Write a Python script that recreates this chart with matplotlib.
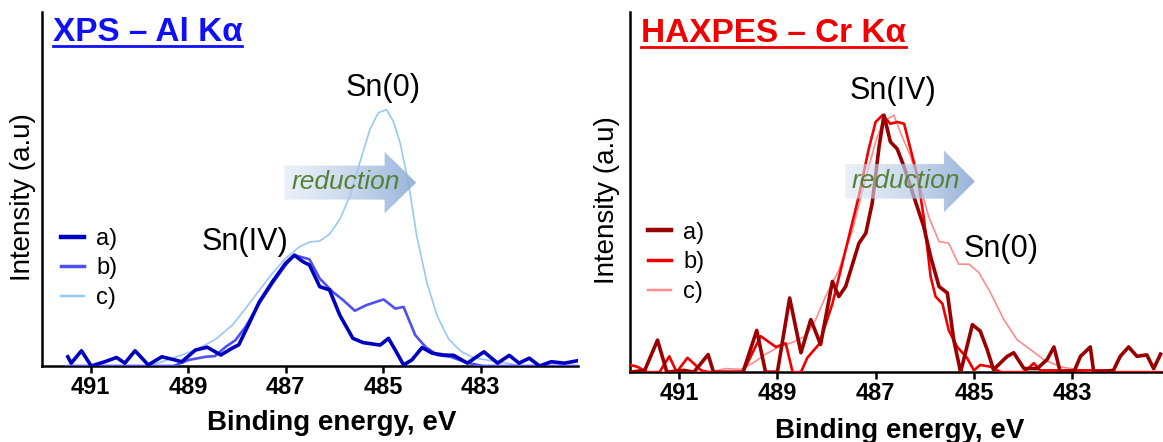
import numpy as np
import matplotlib
matplotlib.use("Agg")
from matplotlib import pyplot as plt
from matplotlib.patches import Polygon
from matplotlib.lines import Line2D

plt.rcParams["font.family"] = ["Liberation Sans", "DejaVu Sans"]

# ---- XPS (Al Ka) spectra, binding energy in eV / normalised intensity ----
xps_a_e = [491.47, 491.40, 491.19, 490.99, 490.71, 490.47, 490.30, 490.09, 489.82, 489.54,
           489.33, 489.13, 488.85, 488.61, 488.33, 488.10, 487.96, 487.75, 487.54, 487.27,
           487.00, 486.82, 486.65, 486.51, 486.30, 486.10, 485.89, 485.62, 485.41, 485.06,
           484.89, 484.75, 484.58, 484.41, 484.20, 483.99, 483.76, 483.55, 483.27, 482.93,
           482.65, 482.41, 482.21, 482.00, 481.79, 481.55, 481.28, 481.00]
xps_a_i = [0.026, 0.008, 0.043, 0.000, 0.012, 0.024, 0.008, 0.043, 0.003, 0.026,
           0.019, 0.012, 0.045, 0.053, 0.031, 0.050, 0.060, 0.120, 0.181, 0.238,
           0.290, 0.313, 0.295, 0.285, 0.224, 0.215, 0.144, 0.078, 0.066, 0.059,
           0.078, 0.045, 0.003, 0.017, 0.052, 0.036, 0.031, 0.030, 0.008, 0.040,
           0.008, 0.030, 0.008, 0.022, 0.000, 0.012, 0.008, 0.015]

xps_b_e = [491.47, 489.30, 488.99, 488.64, 488.45, 488.23, 488.03, 487.82, 487.54, 487.27,
           487.00, 486.82, 486.58, 486.51, 486.30, 486.03, 485.82, 485.58, 485.34, 484.99,
           484.75, 484.58, 484.34, 484.13, 483.89, 483.62, 483.27, 482.95, 481.00]
xps_b_i = [0.000, 0.000, 0.017, 0.026, 0.028, 0.054, 0.073, 0.111, 0.177, 0.233,
           0.285, 0.313, 0.304, 0.301, 0.247, 0.209, 0.186, 0.156, 0.172, 0.188,
           0.162, 0.167, 0.087, 0.054, 0.031, 0.026, 0.009, 0.000, 0.000]

xps_c_e = [491.50, 489.82, 489.47, 489.13, 488.78, 488.44, 488.09, 487.82, 487.54, 487.27,
           487.00, 486.72, 486.51, 486.30, 486.10, 485.89, 485.68, 485.48, 485.27, 485.10,
           484.93, 484.79, 484.65, 484.48, 484.31, 484.10, 483.89, 483.65, 483.41, 483.14,
           482.79, 482.45, 482.20, 481.00]
xps_c_i = [0.000, 0.000, 0.015, 0.031, 0.050, 0.075, 0.116, 0.163, 0.214, 0.262,
           0.304, 0.336, 0.350, 0.353, 0.372, 0.414, 0.480, 0.574, 0.668, 0.715,
           0.724, 0.691, 0.630, 0.517, 0.367, 0.235, 0.141, 0.075, 0.042, 0.023,
           0.015, 0.008, 0.000, 0.000]

# ---- HAXPES (Cr Ka) spectra ----
hax_a_e = [492.00, 491.70, 491.44, 491.25, 490.90, 490.70, 490.41, 490.30, 489.70, 489.42,
           489.24, 489.00, 488.75, 488.52, 488.32, 488.12, 487.88, 487.75, 487.61, 487.34,
           487.20, 487.07, 486.93, 486.83, 486.70, 486.56, 486.42, 486.22, 486.02, 485.88,
           485.71, 485.54, 485.41, 485.27, 485.03, 484.87, 484.73, 484.60, 484.32, 484.19,
           483.98, 483.71, 483.51, 483.37, 483.24, 482.95, 482.83, 482.63, 482.56, 482.16,
           482.02, 481.85, 481.68, 481.48, 481.34, 481.20]
hax_a_i = [0.000, 0.005, 0.089, 0.000, 0.005, 0.000, 0.049, 0.000, 0.000, 0.116,
           0.000, 0.000, 0.206, 0.054, 0.146, 0.077, 0.252, 0.210, 0.238, 0.358,
           0.386, 0.469, 0.626, 0.714, 0.640, 0.620, 0.570, 0.487, 0.404, 0.321,
           0.238, 0.220, 0.090, 0.000, 0.132, 0.114, 0.063, 0.007, 0.044, 0.054,
           0.010, 0.010, 0.035, 0.070, 0.000, 0.005, 0.044, 0.070, 0.000, 0.005,
           0.044, 0.070, 0.044, 0.048, 0.010, 0.050]

hax_b_e = [492.00, 491.85, 491.65, 491.40, 491.20, 491.05, 490.83, 490.55, 490.40, 489.70,
           489.34, 489.03, 488.83, 488.69, 488.52, 488.39, 488.15, 487.88, 487.61, 487.34,
           487.14, 487.00, 486.86, 486.70, 486.56, 486.42, 486.29, 486.15, 486.02, 485.88,
           485.78, 485.64, 485.51, 485.34, 485.14, 485.00, 484.87, 484.66, 484.45, 483.98,
           483.78, 483.65, 482.30, 482.10, 481.20]
hax_b_i = [0.020, 0.015, 0.000, 0.000, 0.044, 0.000, 0.040, 0.005, 0.000, 0.000,
           0.100, 0.070, 0.080, 0.000, 0.000, 0.040, 0.078, 0.190, 0.340, 0.490,
           0.620, 0.695, 0.714, 0.690, 0.695, 0.690, 0.620, 0.545, 0.430, 0.265,
           0.210, 0.190, 0.116, 0.070, 0.040, 0.005, 0.020, 0.015, 0.000, 0.000,
           0.025, 0.005, 0.005, 0.000, 0.000]

hax_c_e = [492.00, 490.30, 490.05, 489.75, 489.50, 489.24, 488.97, 488.69, 488.42, 488.22,
           488.02, 487.75, 487.47, 487.20, 487.00, 486.85, 486.63, 486.49, 486.29, 486.09,
           485.92, 485.71, 485.51, 485.31, 485.10, 484.90, 484.66, 484.39, 484.12, 483.85,
           483.58, 483.24, 482.80, 482.40, 481.20]
hax_c_i = [0.000, 0.002, 0.010, 0.008, 0.025, 0.050, 0.070, 0.083, 0.100, 0.146,
           0.210, 0.283, 0.394, 0.540, 0.640, 0.695, 0.714, 0.664, 0.600, 0.515,
           0.432, 0.363, 0.358, 0.300, 0.300, 0.277, 0.220, 0.146, 0.090, 0.063,
           0.035, 0.015, 0.005, 0.000, 0.000]

ticks = [491, 489, 487, 485, 483]
labels = ["a)", "b)", "c)"]
blues = ["#0000C0", "#5050F0", "#99C8F5"]
reds = ["#9B0000", "#F00000", "#FF8C8C"]
widths = [2.6, 1.9, 1.2]


def reduction_arrow(ax, x0, x1, xh, yc, hb, hh):
    verts = [(x0, yc - hb), (xh, yc - hb), (xh, yc - hh), (x1, yc),
             (xh, yc + hh), (xh, yc + hb), (x0, yc + hb)]
    poly = Polygon(verts, closed=True, facecolor="none", edgecolor="none")
    ax.add_patch(poly)
    t = np.linspace(0, 1, 256)
    c0 = np.array([0.86, 0.90, 0.96])
    c1 = np.array([0.55, 0.67, 0.84])
    rgba = np.zeros((1, 256, 4))
    rgba[0, :, :3] = c0 + (c1 - c0) * t[:, None]
    rgba[0, :, 3] = 0.55 + 0.35 * t
    im = ax.imshow(rgba, extent=(x0, x1, yc - hh, yc + hh), aspect="auto",
                   zorder=5, interpolation="bilinear")
    im.set_clip_path(poly)


def setup(ax, xlim, title, tcolor, fig):
    ax.set_xlim(*xlim)
    ax.set_ylim(0, 1)
    ax.spines["top"].set_visible(False)
    ax.spines["right"].set_visible(False)
    ax.spines["left"].set_linewidth(1.8)
    ax.spines["bottom"].set_linewidth(1.8)
    ax.set_yticks([])
    ax.set_xticks(ticks)
    ax.tick_params(axis="x", direction="out", length=5, width=1.8, labelsize=17, pad=2)
    for lab in ax.get_xticklabels():
        lab.set_fontweight("bold")
    ax.set_xlabel("Binding energy, eV", fontsize=20, fontweight="bold")
    ax.set_ylabel("Intensity (a.u)", fontsize=20)
    t = ax.text(0.02, 0.918, title, transform=ax.transAxes, fontsize=24, fontweight="bold",
                color=tcolor, va="baseline", ha="left")
    fig.canvas.draw()
    bb = t.get_window_extent().transformed(ax.transAxes.inverted())
    ax.add_line(Line2D([bb.x0, bb.x1], [0.903, 0.903], transform=ax.transAxes,
                       color=tcolor, lw=2, clip_on=False))


fig = plt.figure(figsize=(11.63, 4.42), dpi=100)
ax1 = fig.add_axes([0.0361, 0.172, 0.4609, 0.801])
ax2 = fig.add_axes([0.5417, 0.158, 0.4583, 0.8145])

# left panel: XPS
for e, i, col, lw in zip([xps_c_e, xps_b_e, xps_a_e], [xps_c_i, xps_b_i, xps_a_i],
                         blues[::-1], widths[::-1]):
    ax1.plot(e, i, color=col, lw=lw, zorder=3)
reduction_arrow(ax1, 487.03, 484.32, 484.97, 0.518, 0.048, 0.087)
ax1.text(485.77, 0.52, "reduction", style="italic", fontsize=19, color="#548235",
         ha="center", va="center", zorder=6)
ax1.text(485.0, 0.784, "Sn(0)", fontsize=22, ha="center", va="center")
ax1.text(487.83, 0.351, "Sn(IV)", fontsize=22, ha="center", va="center")
handles = [Line2D([], [], color=c, lw=w + 0.6) for c, w in zip(blues, widths)]
ax1.legend(handles, labels, loc="upper left", bbox_to_anchor=(0.035, 0.39), frameon=False,
           fontsize=17, handlelength=1.0, handletextpad=0.5, labelspacing=0.32,
           borderpad=0, borderaxespad=0)
setup(ax1, (492, 481), "XPS – Al Kα", "#1010F5", fig)
ax1.xaxis.set_label_coords(0.54, -0.125)
ax1.yaxis.set_label_coords(-0.012, 0.477)

# right panel: HAXPES
for e, i, col, lw in zip([hax_c_e, hax_b_e, hax_a_e], [hax_c_i, hax_b_i, hax_a_i],
                         reds[::-1], widths[::-1]):
    ax2.plot(e, i, color=col, lw=lw, zorder=3)
reduction_arrow(ax2, 487.62, 484.98, 485.61, 0.53, 0.048, 0.086)
ax2.text(486.38, 0.53, "reduction", style="italic", fontsize=19, color="#548235",
         ha="center", va="center", zorder=6)
ax2.text(486.64, 0.782, "Sn(IV)", fontsize=22, ha="center", va="center")
ax2.text(484.45, 0.343, "Sn(0)", fontsize=22, ha="center", va="center")
handles = [Line2D([], [], color=c, lw=w + 0.6) for c, w in zip(reds, widths)]
ax2.legend(handles, labels, loc="upper left", bbox_to_anchor=(0.033, 0.418), frameon=False,
           fontsize=17, handlelength=1.0, handletextpad=0.5, labelspacing=0.32,
           borderpad=0, borderaxespad=0)
setup(ax2, (492, 481.15), "HAXPES – Cr Kα", "#F00000", fig)
ax2.xaxis.set_label_coords(0.506, -0.128)
ax2.yaxis.set_label_coords(-0.018, 0.478)

fig.savefig("out.png", dpi=100)
